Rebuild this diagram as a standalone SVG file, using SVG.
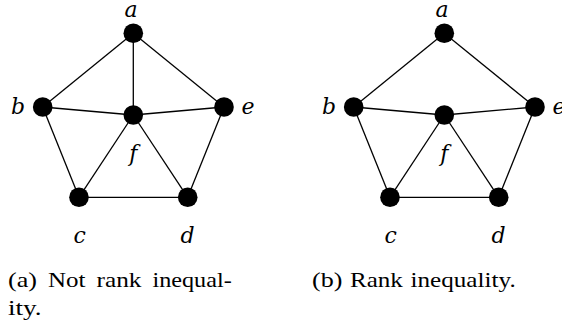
<svg xmlns="http://www.w3.org/2000/svg" width="562" height="329" viewBox="0 0 562 329">
<style>
.e{stroke:#000;stroke-width:1.3;fill:none}
.n{fill:#000}
.l{font-family:"DejaVu Serif","Liberation Serif",serif;font-style:italic;font-size:22px;text-anchor:middle;fill:#000}
.c{font-family:"Liberation Serif",serif;font-size:21px;fill:#000}
</style>
<rect width="562" height="329" fill="#fff"/>
<g id="connectors-a">
<line class="e" x1="133.3" y1="33.3" x2="42.7" y2="107"/>
<line class="e" x1="133.3" y1="33.3" x2="133.3" y2="115"/>
<line class="e" x1="133.3" y1="33.3" x2="224" y2="107"/>
<line class="e" x1="42.7" y1="107" x2="133.3" y2="115"/>
<line class="e" x1="133.3" y1="115" x2="224" y2="107"/>
<line class="e" x1="42.7" y1="107" x2="79" y2="197.3"/>
<line class="e" x1="133.3" y1="115" x2="79" y2="197.3"/>
<line class="e" x1="133.3" y1="115" x2="187.7" y2="197.3"/>
<line class="e" x1="224" y1="107" x2="187.7" y2="197.3"/>
<line class="e" x1="79" y1="197.3" x2="187.7" y2="197.3"/>
</g>
<g id="connectors-b">
<line class="e" x1="444.3" y1="33.3" x2="353.7" y2="107"/>
<line class="e" x1="444.3" y1="33.3" x2="535" y2="107"/>
<line class="e" x1="353.7" y1="107" x2="444.3" y2="115"/>
<line class="e" x1="444.3" y1="115" x2="535" y2="107"/>
<line class="e" x1="353.7" y1="107" x2="390" y2="197.3"/>
<line class="e" x1="444.3" y1="115" x2="390" y2="197.3"/>
<line class="e" x1="444.3" y1="115" x2="498.7" y2="197.3"/>
<line class="e" x1="535" y1="107" x2="498.7" y2="197.3"/>
<line class="e" x1="390" y1="197.3" x2="498.7" y2="197.3"/>
</g>
<g id="a1"><circle class="n" cx="133.3" cy="33.3" r="9.8"/><text class="l" x="131" y="17">a</text></g>
<g id="b1"><circle class="n" cx="42.7" cy="107" r="9.8"/><text class="l" x="18" y="114">b</text></g>
<g id="e1"><circle class="n" cx="224" cy="107" r="9.8"/><text class="l" x="248" y="114">e</text></g>
<g id="f1"><circle class="n" cx="133.3" cy="115" r="9.8"/><text class="l" x="133.4" y="161">f</text></g>
<g id="c1"><circle class="n" cx="79" cy="197.3" r="9.8"/><text class="l" x="79.7" y="243">c</text></g>
<g id="d1"><circle class="n" cx="187.7" cy="197.3" r="9.8"/><text class="l" x="187.5" y="243">d</text></g>
<g id="a2"><circle class="n" cx="444.3" cy="33.3" r="9.8"/><text class="l" x="442" y="17">a</text></g>
<g id="b2"><circle class="n" cx="353.7" cy="107" r="9.8"/><text class="l" x="329" y="114">b</text></g>
<g id="e2"><circle class="n" cx="535" cy="107" r="9.8"/><text class="l" x="559" y="114">e</text></g>
<g id="f2"><circle class="n" cx="444.3" cy="115" r="9.8"/><text class="l" x="444.4" y="161">f</text></g>
<g id="c2"><circle class="n" cx="390" cy="197.3" r="9.8"/><text class="l" x="390.7" y="243">c</text></g>
<g id="d2"><circle class="n" cx="498.7" cy="197.3" r="9.8"/><text class="l" x="498.5" y="243">d</text></g>
<g id="caption-a">
<text class="c" x="8" y="287" textLength="29" lengthAdjust="spacingAndGlyphs">(a)</text>
<text class="c" x="48" y="287" textLength="37.4" lengthAdjust="spacingAndGlyphs">Not</text>
<text class="c" x="96.5" y="287" textLength="45" lengthAdjust="spacingAndGlyphs">rank</text>
<text class="c" x="152.5" y="287" textLength="79.2" lengthAdjust="spacingAndGlyphs">inequal-</text>
<text class="c" x="8" y="315" textLength="33.6" lengthAdjust="spacingAndGlyphs">ity.</text>
</g>
<g id="caption-b">
<text class="c" x="312" y="287" textLength="30.4" lengthAdjust="spacingAndGlyphs">(b)</text>
<text class="c" x="350" y="287" textLength="52.9" lengthAdjust="spacingAndGlyphs">Rank</text>
<text class="c" x="410.5" y="287" textLength="105.2" lengthAdjust="spacingAndGlyphs">inequality.</text>
</g>
</svg>
